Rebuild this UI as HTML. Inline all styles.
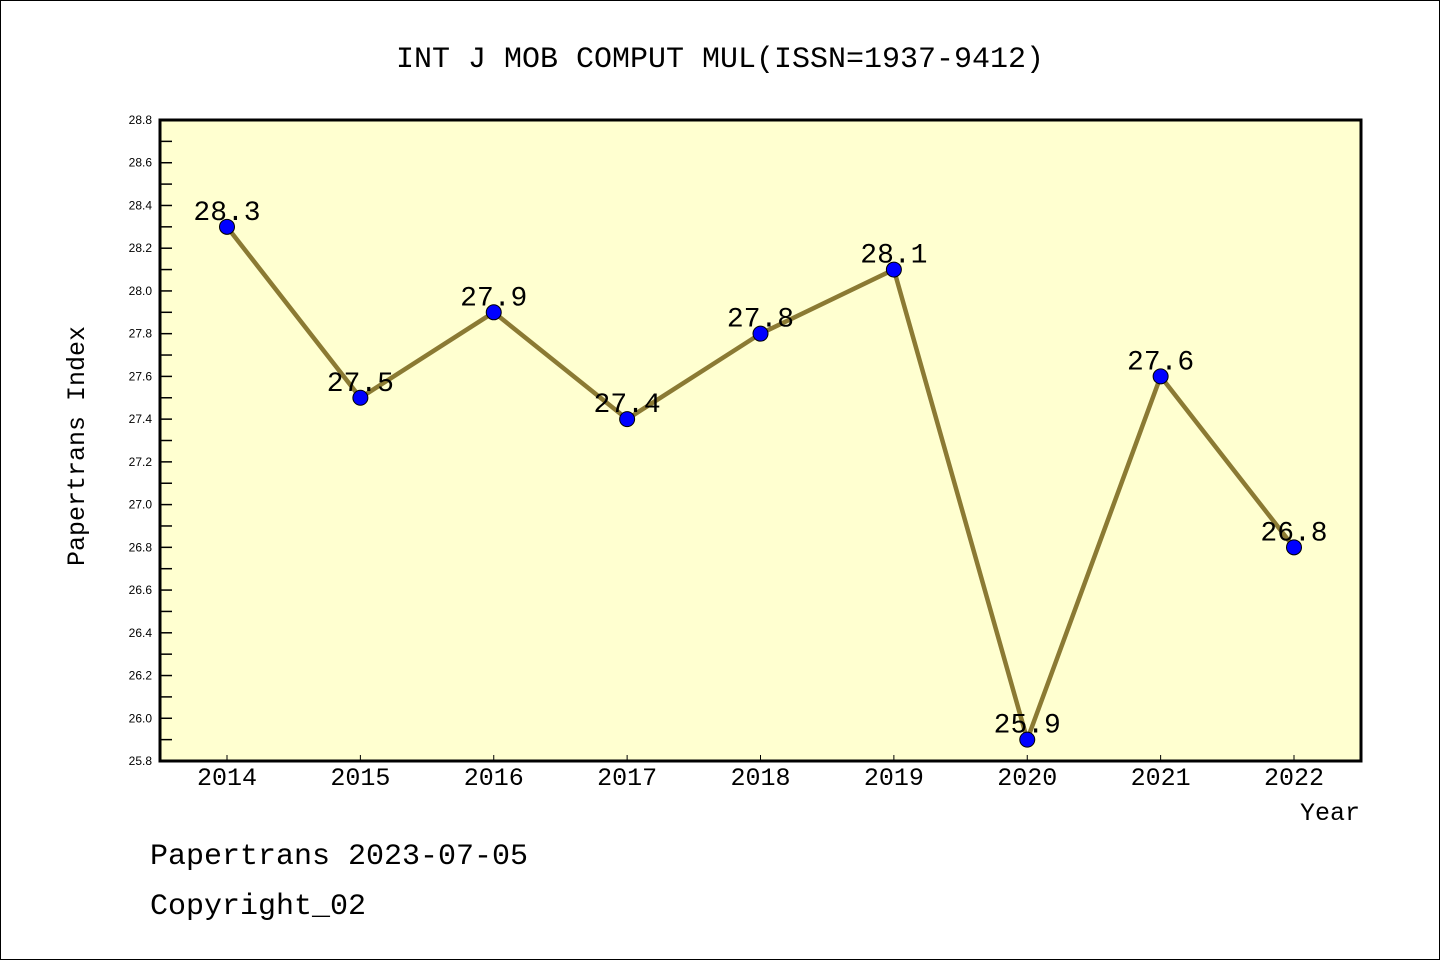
<!DOCTYPE html>
<html><head><meta charset="utf-8"><style>
html,body{margin:0;padding:0;background:#fff}
svg{display:block;font-family:"Liberation Mono","WenQuanYi Zen Hei",monospace}
.yl{font-family:"Liberation Sans",sans-serif;font-size:12px}
</style></head><body>
<svg id="c" width="1440" height="960" viewBox="0 0 1440 960">
<rect x="0.5" y="0.5" width="1439" height="959" fill="#fff" stroke="#000"/>
<text x="720" y="67" text-anchor="middle" font-size="30">INT J MOB COMPUT MUL(ISSN=1937-9412)</text>
<rect x="160" y="120" width="1201" height="641" fill="#ffffd0"/>
<g id="ticks"></g>
<g id="series"></g>
<rect x="160" y="120" width="1201" height="641" fill="none" stroke="#000" stroke-width="3"/>
<text transform="translate(84,446) rotate(-90)" text-anchor="middle" font-size="25">Papertrans Index</text>
<text x="1360" y="820" text-anchor="end" font-size="25">Year</text>
<text x="150" y="864" font-size="30">Papertrans 2023-07-05</text>
<text x="150" y="914" font-size="30">Copyright_02</text>
</svg>
<script>
const years=[2014,2015,2016,2017,2018,2019,2020,2021,2022];
const values=[28.3,27.5,27.9,27.4,27.8,28.1,25.9,27.6,26.8];
const yTicks=[25.8,26.0,26.2,26.4,26.6,26.8,27.0,27.2,27.4,27.6,27.8,28.0,28.2,28.4,28.6,28.8];
const NS="http://www.w3.org/2000/svg";
const yMin=25.8,yMax=28.8,plotTop=120,plotBot=761;
const ys=v=>plotBot-(v-yMin)/(yMax-yMin)*(plotBot-plotTop);
const xs=i=>227+i*(1294-227)/(years.length-1);
function mk(t,a,p){const e=document.createElementNS(NS,t);for(const k in a)e.setAttribute(k,a[k]);p.appendChild(e);return e;}
const tg=document.getElementById('ticks'),sg=document.getElementById('series');
yTicks.forEach((v,i)=>{
 const l=mk('line',{x1:160,x2:172,y1:ys(v),y2:ys(v),stroke:'#000','stroke-width':1.5},tg);
 
 
 if(i<yTicks.length-1){const m=mk('line',{x1:160,x2:172,y1:ys(v+0.1),y2:ys(v+0.1),stroke:'#000','stroke-width':1.5},tg);
 
 }
 const t=mk('text',{x:152,y:ys(v)+4,'text-anchor':'end','class':'yl'},tg);
 
 
 t.textContent=v.toFixed(1);
});
years.forEach((yr,i)=>{
 const l=mk('line',{x1:xs(i),x2:xs(i),y1:761,y2:755,stroke:'#000','stroke-width':1},tg);
 
 
 const t=mk('text',{x:xs(i),y:785,'text-anchor':'middle','font-size':25},tg);
 
 
 t.textContent=yr;
});
const pl=mk('polyline',{points:values.map((v,i)=>xs(i)+','+ys(v)).join(' '),fill:'none',stroke:'#8b7a33','stroke-width':4.5},sg);


values.forEach((v,i)=>{
 const c=mk('circle',{cx:xs(i),cy:ys(v),r:7.5,fill:'#0000ff',stroke:'#000','stroke-width':1},sg);
 
 
 const t=mk('text',{x:xs(i),y:ys(v)-7,'text-anchor':'middle','font-size':28},sg);
 
 
 t.textContent=v.toFixed(1);
});
</script>
</body></html>
